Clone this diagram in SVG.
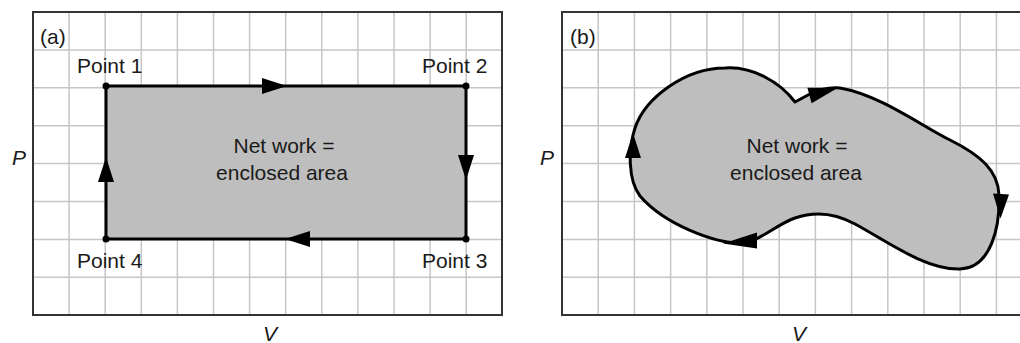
<svg xmlns="http://www.w3.org/2000/svg" xmlns:xlink="http://www.w3.org/1999/xlink" width="1020" height="343" viewBox="0 0 1020 343">
<style>
.grid{stroke:#c6c6c6;stroke-width:1.5;fill:none}
.frame{stroke:#333;stroke-width:2;fill:none}
.cycle{stroke:#000;stroke-width:3;fill:#bebebe;stroke-linejoin:round}
.t{font-family:"Liberation Sans",Arial,sans-serif;font-size:21px;fill:#1a1a1a}
.ax{font-family:"Liberation Sans",Arial,sans-serif;font-size:21px;font-style:italic;fill:#1a1a1a}
.ah{fill:#000}
</style>
<defs>
<path id="ah" d="M0,0 L-25,-8 L-25,8 Z"/>
</defs>
<rect width="1020" height="343" fill="#fff"/>
<g id="panel-a">
<g id="grid-a" class="grid">
<path d="M69.1,12V315M105.2,12V315M141.3,12V315M177.4,12V315M213.5,12V315M249.6,12V315M285.7,12V315M321.8,12V315M357.9,12V315M394,12V315M430.1,12V315M466.2,12V315"/>
<path d="M33,49.9H502M33,87.8H502M33,125.7H502M33,163.6H502M33,201.5H502M33,239.4H502M33,277.3H502"/>
</g>
<rect class="frame" x="33" y="12" width="469" height="303"/>
<g id="cycle-a">
<rect class="cycle" x="106" y="86" width="360" height="153"/>
<circle cx="106" cy="86" r="3.5"/>
<circle cx="466" cy="86" r="3.5"/>
<circle cx="466" cy="239" r="3.5"/>
<circle cx="106" cy="239" r="3.5"/>
</g>
<g id="connectors-a" class="ah">
<use xlink:href="#ah" href="#ah" transform="translate(287,86)"/>
<use xlink:href="#ah" href="#ah" transform="translate(466,180) rotate(90)"/>
<use xlink:href="#ah" href="#ah" transform="translate(285,239) rotate(180)"/>
<use xlink:href="#ah" href="#ah" transform="translate(106,157) rotate(-90)"/>
</g>
<g id="labels-a">
<text class="t" x="40" y="44">(a)</text>
<text class="t" x="77" y="73">Point 1</text>
<text class="t" x="422" y="73">Point 2</text>
<text class="t" x="422" y="268">Point 3</text>
<text class="t" x="77" y="268">Point 4</text>
<text class="t" text-anchor="middle" x="284" y="153">Net work =</text>
<text class="t" text-anchor="middle" x="282" y="180">enclosed area</text>
<text class="ax" x="12" y="165">P</text>
<text class="ax" text-anchor="middle" x="270" y="341">V</text>
</g>
</g>
<g id="panel-b">
<g id="grid-b" class="grid">
<path d="M598.2,12V315M634.4,12V315M670.6,12V315M706.8,12V315M743,12V315M779.2,12V315M815.4,12V315M851.6,12V315M887.8,12V315M924,12V315M960.2,12V315M996.4,12V315"/>
<path d="M562,49.9H1031M562,87.8H1031M562,125.7H1031M562,163.6H1031M562,201.5H1031M562,239.4H1031M562,277.3H1031"/>
</g>
<rect class="frame" x="562" y="12" width="469" height="303"/>
<g id="cycle-b">
<path class="cycle" d="M635,128 C645,98 685,68 725,68 C752,66 780,82 795,102 L808,95 C820,89 830,87 840,88 C880,95 920,125 950,140 C980,155 998,170 999,195 C1000,225 992,268 960,269 C925,270 885,240 855,224 C835,213 815,211 795,218 C775,225 760,242 740,243 C715,243 665,225 640,196 C628,180 628,150 635,128 Z"/>
</g>
<g id="connectors-b" class="ah">
<polygon points="838,87.7 807.4,87.8 811.6,103.2"/>
<polygon points="1000.5,218.5 993,193.5 1009,194.5"/>
<polygon points="723,243.5 757,232.5 757,248.5"/>
<polygon points="633,133 625,158 641,158"/>
</g>
<g id="labels-b">
<text class="t" x="570" y="44">(b)</text>
<text class="t" text-anchor="middle" x="797" y="153">Net work =</text>
<text class="t" text-anchor="middle" x="796" y="180">enclosed area</text>
<text class="ax" x="540" y="165">P</text>
<text class="ax" text-anchor="middle" x="799" y="341">V</text>
</g>
</g>
</svg>
